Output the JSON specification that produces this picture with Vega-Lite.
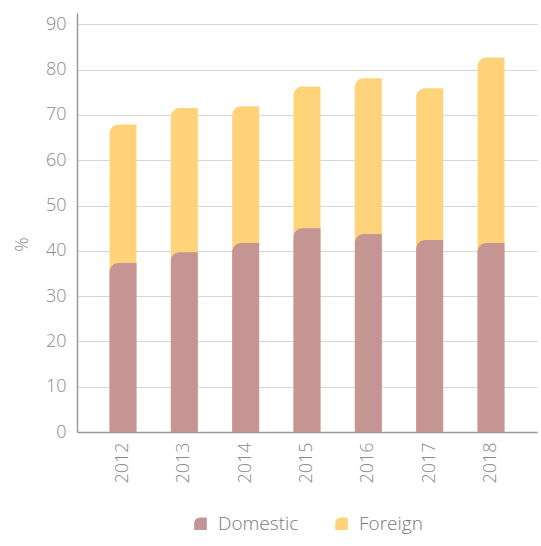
{
  "$schema": "https://vega.github.io/schema/vega-lite/v6.json",
  "width": 460,
  "height": 419,
  "padding": {"left": 13, "top": 13, "right": 4, "bottom": 10},
  "data": {"values": [
    {"year": "2012", "type": "Foreign", "top": 67.9},
    {"year": "2013", "type": "Foreign", "top": 71.5},
    {"year": "2014", "type": "Foreign", "top": 71.9},
    {"year": "2015", "type": "Foreign", "top": 76.3},
    {"year": "2016", "type": "Foreign", "top": 78.1},
    {"year": "2017", "type": "Foreign", "top": 75.9},
    {"year": "2018", "type": "Foreign", "top": 82.7},
    {"year": "2012", "type": "Domestic", "top": 37.3},
    {"year": "2013", "type": "Domestic", "top": 39.7},
    {"year": "2014", "type": "Domestic", "top": 41.7},
    {"year": "2015", "type": "Domestic", "top": 45.0},
    {"year": "2016", "type": "Domestic", "top": 43.7},
    {"year": "2017", "type": "Domestic", "top": 42.4},
    {"year": "2018", "type": "Domestic", "top": 41.7}
  ]},
  "mark": {"type": "bar", "cornerRadiusTopLeft": 9},
  "encoding": {
    "x": {
      "field": "year", "type": "ordinal",
      "scale": {"paddingInner": 0.56, "paddingOuter": 0.53},
      "axis": {"title": null, "labelAngle": -90, "ticks": false, "labelPadding": 10, "domainColor": "#9a9a9a", "labelBaseline": "middle", "labelAlign": "right"}
    },
    "y": {
      "field": "top", "type": "quantitative", "stack": null,
      "scale": {"domain": [0, 92.5], "nice": false},
      "axis": {"title": "%", "values": [0,10,20,30,40,50,60,70,80,90], "ticks": false, "labelPadding": 11, "domainColor": "#9a9a9a", "gridColor": "#d6d6d6", "titlePadding": 14, "titleY": 231}
    },
    "color": {
      "field": "type", "type": "nominal",
      "scale": {"domain": ["Domestic", "Foreign"], "range": ["#C49592", "#FFD37A"]},
      "legend": {"title": null, "orient": "bottom", "direction": "horizontal", "symbolType": "M -1 1 L -1 0 Q -1 -1 0 -1 L 1 -1 L 1 1 Z", "symbolSize": 160, "symbolStrokeWidth": 0, "columnPadding": 33, "labelOffset": 8, "offset": 30}
    }
  },
  "config": {
    "view": {"stroke": null},
    "font": "Open Sans",
    "axis": {"labelFont": "Open Sans", "labelFontSize": 18, "labelFontWeight": 300, "labelColor": "#8a8a8a", "titleFont": "Open Sans", "titleFontSize": 18, "titleFontWeight": 300, "titleColor": "#8a8a8a", "domainWidth": 1.5},
    "legend": {"labelFont": "Open Sans", "labelFontSize": 19, "labelFontWeight": 300, "labelColor": "#7a7a7a", "layout": {"bottom": {"anchor": "middle"}}}
  }
}
